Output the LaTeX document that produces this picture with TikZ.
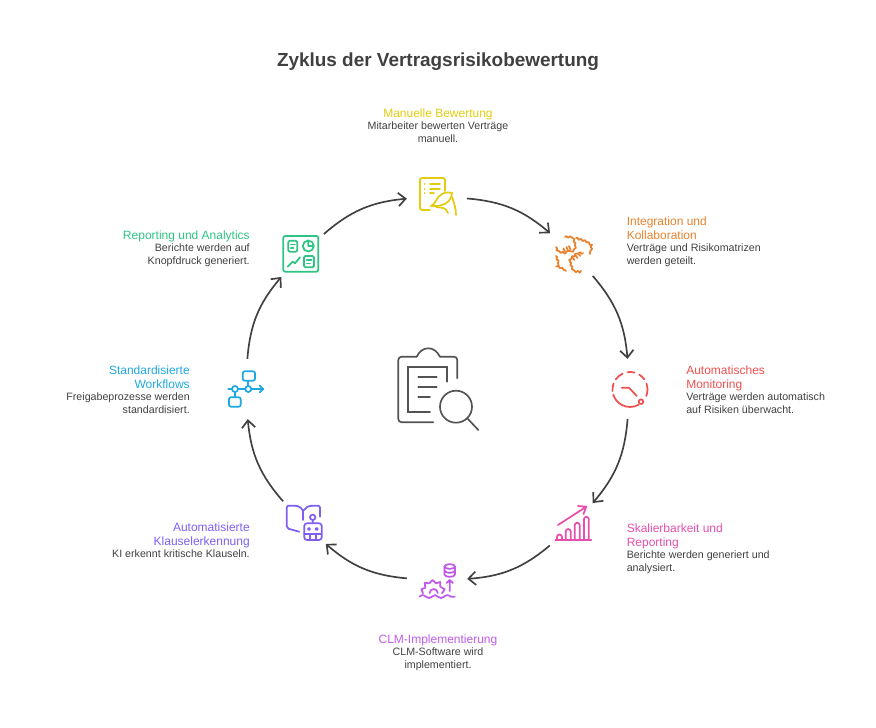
\documentclass[tikz,border=0pt]{standalone}
\usepackage{fontspec}
\setmainfont{Liberation Sans}
\usetikzlibrary{arrows.meta,positioning,decorations.pathmorphing}

\definecolor{manualcol}{HTML}{E3CC0F}
\definecolor{integcol}{HTML}{E8822E}
\definecolor{monicol}{HTML}{EF4F4F}
\definecolor{scalecol}{HTML}{E64FAE}
\definecolor{clmcol}{HTML}{C05BE8}
\definecolor{klauscol}{HTML}{7F5FF2}
\definecolor{flowcol}{HTML}{1FA8E0}
\definecolor{reportcol}{HTML}{2FC483}
\definecolor{inkcol}{HTML}{404040}

\tikzset{
  iconspot/.style={circle,minimum size=45pt,inner sep=0pt},
  headtxt/.style={font=\fontsize{9}{10.5}\selectfont,inner sep=0pt,text depth=1.9pt},
  bodytxt/.style={font=\fontsize{8}{9.2}\selectfont,text=inkcol,inner sep=0pt},
  flow/.style={->,draw=inkcol,line width=1.25pt,bend left=18},
  glyph/.style={line width=1.3pt,line cap=round,line join=round}
}

\begin{document}
\begin{tikzpicture}[x=0.75pt,y=-0.75pt,>={Straight Barb[length=5.5pt,width=10pt]}]
\useasboundingbox (0,0) rectangle (876,728);

\node[font=\bfseries\fontsize{14.2}{17}\selectfont,text=inkcol] (title) at (438,61.5) {Zyklus der Vertragsrisikobewertung};

% icon spots
\node[iconspot] (manual) at (437,196) {};
\node[iconspot] (integ) at (573,253) {};
\node[iconspot] (moni) at (630,389) {};
\node[iconspot] (scale) at (573,526) {};
\node[iconspot] (clm) at (437,581) {};
\node[iconspot] (klaus) at (303,524) {};
\node[iconspot] (wflow) at (245,389) {};
\node[iconspot] (report) at (301,254) {};

% ring
\draw[flow] (manual) to (integ);
\draw[flow] (integ) to (moni);
\draw[flow] (moni) to (scale);
\draw[flow] (scale) to (clm);
\draw[flow] (clm) to (klaus);
\draw[flow] (klaus) to (wflow);
\draw[flow] (wflow) to (report);
\draw[flow] (report) to (manual);

% labels
\node[headtxt,text=manualcol,anchor=north] (manualhead) at (438,109) {Manuelle Bewertung};
\node[bodytxt,align=center,below=0.8pt of manualhead] (manualbody) {Mitarbeiter bewerten Verträge\\manuell.};

\node[headtxt,text=integcol,align=left,anchor=north west] (integhead) at (626.5,217) {Integration und\\Kollaboration};
\node[bodytxt,align=left,below=0.8pt of integhead.south west,anchor=north west] (integbody) {Verträge und Risikomatrizen\\werden geteilt.};

\node[headtxt,text=monicol,align=left,anchor=north west] (monihead) at (686,366) {Automatisches\\Monitoring};
\node[bodytxt,align=left,below=0.8pt of monihead.south west,anchor=north west] (monibody) {Verträge werden automatisch\\auf Risiken überwacht.};

\node[headtxt,text=scalecol,align=left,anchor=north west] (scalehead) at (626.5,524) {Skalierbarkeit und\\Reporting};
\node[bodytxt,align=left,below=0.8pt of scalehead.south west,anchor=north west] (scalebody) {Berichte werden generiert und\\analysiert.};

\node[headtxt,text=clmcol,anchor=north] (clmhead) at (438,635) {CLM-Implementierung};
\node[bodytxt,align=center,below=0.8pt of clmhead] (clmbody) {CLM-Software wird\\implementiert.};

\node[headtxt,text=klauscol,align=right,anchor=north east] (klaushead) at (250,523) {Automatisierte\\Klauselerkennung};
\node[bodytxt,align=right,below=0.8pt of klaushead.south east,anchor=north east] (klausbody) {KI erkennt kritische Klauseln.};

\node[headtxt,text=flowcol,align=right,anchor=north east] (wflowhead) at (190,366) {Standardisierte\\Workflows};
\node[bodytxt,align=right,below=0.8pt of wflowhead.south east,anchor=north east] (wflowbody) {Freigabeprozesse werden\\standardisiert.};

\node[headtxt,text=reportcol,anchor=north east] (reporthead) at (250,231) {Reporting und Analytics};
\node[bodytxt,align=right,below=0.8pt of reporthead.south east,anchor=north east] (reportbody) {Berichte werden auf\\Knopfdruck generiert.};

% manual icon
\begin{scope}[glyph,draw=manualcol]
\draw[rounded corners=1.5pt] (445,191) -- (445,178) -- (420,178) -- (420,210) -- (430,210);
\draw (430,184) -- (440,184) (430,189) -- (440,189) (430,193) -- (434,193);
\draw (424.5,184) -- (424.6,184) (424.5,189) -- (424.6,189) (424.5,193) -- (424.6,193);
\draw (431,206) .. controls (436,204) and (436,197) .. (442,194) .. controls (446,192) and (449,192) .. (452,193) .. controls (452,199) and (447,204) .. (442,205) .. controls (439,206) and (435,206) .. (431,206);
\draw (436,207) .. controls (442,208) and (446,207) .. (448,213) (452,197) .. controls (454,203) and (456,208) .. (456,215);
\end{scope}

% integration icon
\begin{scope}[glyph,draw=integcol,decoration={snake,segment length=3pt,amplitude=0.6pt}]
\draw[decorate] (565,237) -- (572,237) -- (574,243) -- (573,248) -- (566,252);
\draw[decorate] (566,253) -- (560,252) -- (556,247);
\draw[decorate] (576,238) -- (585,241) -- (590,245) -- (590,254);
\draw[decorate] (583,253) -- (578,253) -- (573,257) -- (570,262);
\draw[decorate] (570,262) -- (573,270) -- (581,271);
\draw[decorate] (556,256) -- (558,261) -- (556,265) -- (563,268) -- (566,271);
\draw (565,252) -- (563.5,248.5) (568,251) -- (566.5,247) (570.5,249.5) -- (569,246);
\draw (572,257) -- (574.5,260) (575,255) -- (577.5,258) (578,253.5) -- (580.5,256);
\end{scope}

% monitoring icon
\begin{scope}[glyph,draw=monicol]
\draw (630,389.5) ++(60:17.5) arc (60:163:17.5);
\draw (630,389.5) ++(175:17.5) arc (175:200:17.5);
\draw (630,389.5) ++(215:17.5) arc (215:245:17.5);
\draw (630,389.5) ++(262:17.5) arc (262:285:17.5);
\draw (630,389.5) ++(302:17.5) arc (302:325:17.5);
\draw (630,389.5) ++(340:17.5) arc (340:382:17.5);
\draw (621.7,387.7) -- (629,387.7) -- (636.7,396);
\draw (641,401.7) circle (2.3);
\end{scope}

% scaling icon
\begin{scope}[glyph,draw=scalecol]
\draw (555.3,540) -- (591.3,540);
\draw (557,540) -- (557,537) arc (180:360:2.5) -- (562,540);
\draw (565.7,540) -- (565.7,531.5) arc (180:360:2.5) -- (570.7,540);
\draw (574.7,540) -- (574.7,525.2) arc (180:360:2.5) -- (579.7,540);
\draw (584,540) -- (584,519.2) arc (180:360:2.4) -- (588.8,540);
\draw (558,525) -- (586.3,506.7) (578,506) -- (586.3,506.7) -- (583.5,514);
\end{scope}

% clm icon
\begin{scope}[glyph,draw=clmcol]
\draw (419.5,596.7) .. controls (422,594.5) and (424,594.5) .. (426,596.7) .. controls (428,598.5) and (430,598.5) .. (432,596.7) .. controls (434,594.5) and (436,594.5) .. (438,596.7) .. controls (440,598.5) and (442,598.5) .. (444,596.7) .. controls (447,594.5) and (449,594.5) .. (451,596.7) -- (454.7,596.7);
\draw (423,593.3) -- (421.3,589.3) -- (425.3,587.7) -- (424.7,582.7) -- (429.3,583.3) -- (432.7,580) -- (436,583.3) -- (440.3,582) -- (440.3,586.7) -- (444.7,589.3) -- (442,593.3);
\draw (429.7,593) arc (180:360:4);
\draw (449.7,591) -- (449.7,580) (446.5,583) -- (449.7,580) -- (452.9,583);
\draw (449.7,566.5) ellipse (5.2 and 2.4);
\draw (444.5,566.5) -- (444.5,574.5) arc (180:0:5.2 and 2.4) -- (454.9,566.5);
\draw (444.5,570.5) arc (180:0:5.2 and 2.4);
\end{scope}

% klausel icon
\begin{scope}[glyph,draw=klauscol]
\draw[rounded corners=1.5pt] (299.3,531.7) -- (286.7,528.3) -- (286.7,505.7) -- (295,505.7);
\draw (295,505.7) .. controls (299,506) and (302,508) .. (303.3,510.7) .. controls (305,508) and (308,506) .. (312,505.7);
\draw[rounded corners=1.5pt] (312,505.7) -- (320,505.7) -- (320,516.7);
\draw (303.3,510.7) -- (303.3,520);
\draw[rounded corners=2pt] (304.3,523.3) rectangle (321.7,540);
\draw (304.3,534) -- (321.7,534) (310,534) -- (310,540) (315.8,534) -- (315.8,540);
\draw (312.7,517.3) circle (2.7) (312.7,520) -- (312.7,523.3);
\draw (309,529) circle (1.1) (316.7,529) circle (1.1);
\end{scope}

% workflow icon
\begin{scope}[glyph,draw=flowcol]
\draw (228.3,389) -- (232,389) (238,389) -- (245.3,389) (251.3,389) -- (263.3,389) (259.5,385.5) -- (263.3,389) -- (259.5,392.5);
\draw (235,389) circle (3) (248.3,389) circle (3);
\draw[rounded corners=1.5pt] (242.7,371.3) rectangle (255,380.7);
\draw[rounded corners=1.5pt] (229,397.3) rectangle (240.7,406.7);
\draw (248.3,380.7) -- (248.3,386) (235,392) -- (235,397.3);
\end{scope}

% reporting icon
\begin{scope}[glyph,draw=reportcol]
\draw[rounded corners=1.5pt] (283.3,236) rectangle (318.3,271.7);
\draw[rounded corners=1pt] (288.3,240.7) rectangle (297.3,251.7);
\draw (290.8,244.5) -- (295,244.5) (290.8,248) -- (293.5,248);
\draw (308.3,246) circle (5.5) (308.3,240.5) -- (308.3,246) -- (313.8,246);
\draw (287.7,266.7) -- (292.7,261.7) -- (295,263.3) -- (300,257.3);
\draw[rounded corners=1pt] (304,256) rectangle (314,267.3);
\draw (306.7,260) -- (311.5,260) (306.7,263.5) -- (310,263.5);
\end{scope}

% clipboard in the middle
\begin{scope}[line width=1.25pt,line cap=round,draw=inkcol!90]
\draw[rounded corners=2.5pt] (457.3,378.3) -- (457.3,356.7) -- (440,356.7);
\draw (440,356.7) .. controls (437,351) and (433,348.3) .. (428.3,348.3) .. controls (423.5,348.3) and (419.5,351) .. (416.7,356.7);
\draw[rounded corners=2.5pt] (416.7,356.7) -- (398.3,356.7) -- (398.3,422.3) -- (433.3,422.3);
\draw (446.7,381.7) -- (446.7,366.7) -- (407.7,366.7) -- (407.7,412.3) -- (430,412.3);
\draw (418.3,376.7) -- (436.7,376.7) (418.3,386.7) -- (436.7,386.7) (418.3,397.3) -- (430,397.3);
\draw (456,406.7) circle (16);
\draw (467.3,418.3) -- (478.3,430);
\end{scope}
\end{tikzpicture}
\end{document}
